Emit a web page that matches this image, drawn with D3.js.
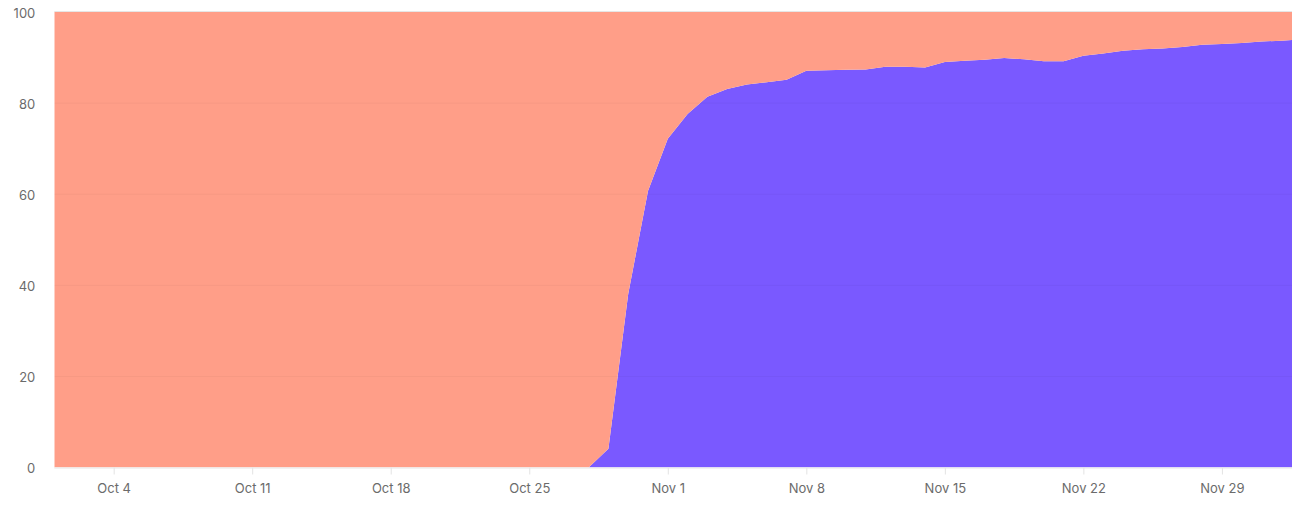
<!DOCTYPE html>
<html>
<head>
<meta charset="utf-8">
<script src="https://cdn.jsdelivr.net/npm/d3@7"></script>
<style>
  html, body { margin: 0; padding: 0; background: #fff; overflow: hidden; }
  svg { display: block; }
  .tick text { font-family: Inter, "Noto Sans", sans-serif; font-size: 13px; fill: #6b6b6b; }
</style>
</head>
<body>
<svg id="chart" width="1292" height="508"></svg>
<script>
// ---- data ----
const startDate = "2020-10-01";
const endDate = "2020-12-03";
// share (%) of the purple series, one value per day from Oct 1
const purpleValues = [
  0,0,0,0,0,0,0,0,0,0,          // Oct 1-10
  0,0,0,0,0,0,0,0,0,0,          // Oct 11-20
  0,0,0,0,0,0,0,0,              // Oct 21-28
  4.1, 38.1, 60.7,              // Oct 29-31
  72.2, 77.6, 81.4, 83.1, 84.1, 84.6, 85.1, // Nov 1-7
  87.1, 87.2, 87.3, 87.4, 88.0, 88.0, 87.8, // Nov 8-14
  89.0, 89.3, 89.5, 89.9, 89.6, 89.2, 89.2, // Nov 15-21
  90.4, 90.9, 91.5, 91.8, 92.0, 92.3, 92.8, // Nov 22-28
  93.0, 93.2, 93.5, 93.7, 94.0              // Nov 29 - Dec 3
];
const seriesKeys = ["purple", "salmon"];
const seriesColors = ["#7a59ff", "#ff9e88"];
const xTickLabels = ["2020-10-04","2020-10-11","2020-10-18","2020-10-25","2020-11-01","2020-11-08","2020-11-15","2020-11-22","2020-11-29"];
const yTicks = [0, 20, 40, 60, 80, 100];

// ---- build table ----
const parse = d3.utcParse("%Y-%m-%d");
const day0 = parse(startDate);
const rows = purpleValues.map((v, i) => ({
  date: d3.utcDay.offset(day0, i),
  purple: v,
  salmon: 100 - v
}));

const svg = d3.select("#chart");
const mLeft = 54.3, mBottom = 467.5, mTop = 12;
const x = d3.scaleUtc()
  .domain([day0, parse(endDate)])
  .range([mLeft, mLeft + 63 * 19.79]);
const y = d3.scaleLinear().domain([0, 100]).range([mBottom, mTop]);

svg.append("defs").append("clipPath").attr("id", "clip")
  .append("rect").attr("x", mLeft).attr("y", 0).attr("width", 1292 - mLeft).attr("height", mBottom);

const stack = d3.stack().keys(seriesKeys);
const layers = stack(rows);
const area = d3.area()
  .x(d => x(d.data.date))
  .y0(d => y(d[0]))
  .y1(d => y(d[1]));

const g = svg.append("g").attr("clip-path", "url(#clip)");
g.selectAll("path.layer")
  .data(layers)
  .join("path")
  .attr("class", "layer")
  .attr("fill", (d, i) => seriesColors[i])
  .attr("d", area);

// gridlines (faint, on top)
g.selectAll("line.grid")
  .data(yTicks.filter(t => t > 0 && t < 100))
  .join("line")
  .attr("class", "grid")
  .attr("x1", mLeft).attr("x2", 1292)
  .attr("y1", d => y(d)).attr("y2", d => y(d))
  .attr("stroke", "#000").attr("stroke-opacity", 0.035).attr("stroke-width", 1);

// top line
svg.append("line")
  .attr("x1", mLeft).attr("x2", 1292)
  .attr("y1", y(100) - 0.5).attr("y2", y(100) - 0.5)
  .attr("stroke", "#e6e6e6").attr("stroke-width", 1);

// x axis
const xAxis = d3.axisBottom(x)
  .tickValues(xTickLabels.map(parse))
  .tickFormat(d3.utcFormat("%b %-d"))
  .tickSize(7)
  .tickPadding(9);
const xg = svg.append("g").attr("transform", `translate(0,${mBottom})`).call(xAxis);
xg.select(".domain").remove();
xg.selectAll(".tick line").attr("stroke", "#e3e3e3");
xg.append("line").attr("x1", mLeft).attr("x2", 1292).attr("y1", 0.5).attr("y2", 0.5)
  .attr("stroke", "#e6e6e6");

// y axis
const yAxis = d3.axisLeft(y).tickValues(yTicks).tickSize(0).tickPadding(19);
const yg = svg.append("g").attr("transform", `translate(${mLeft},0)`).call(yAxis);
yg.select(".domain").remove();
yg.selectAll(".tick text").attr("dy", "0.4em");
</script>
</body>
</html>
